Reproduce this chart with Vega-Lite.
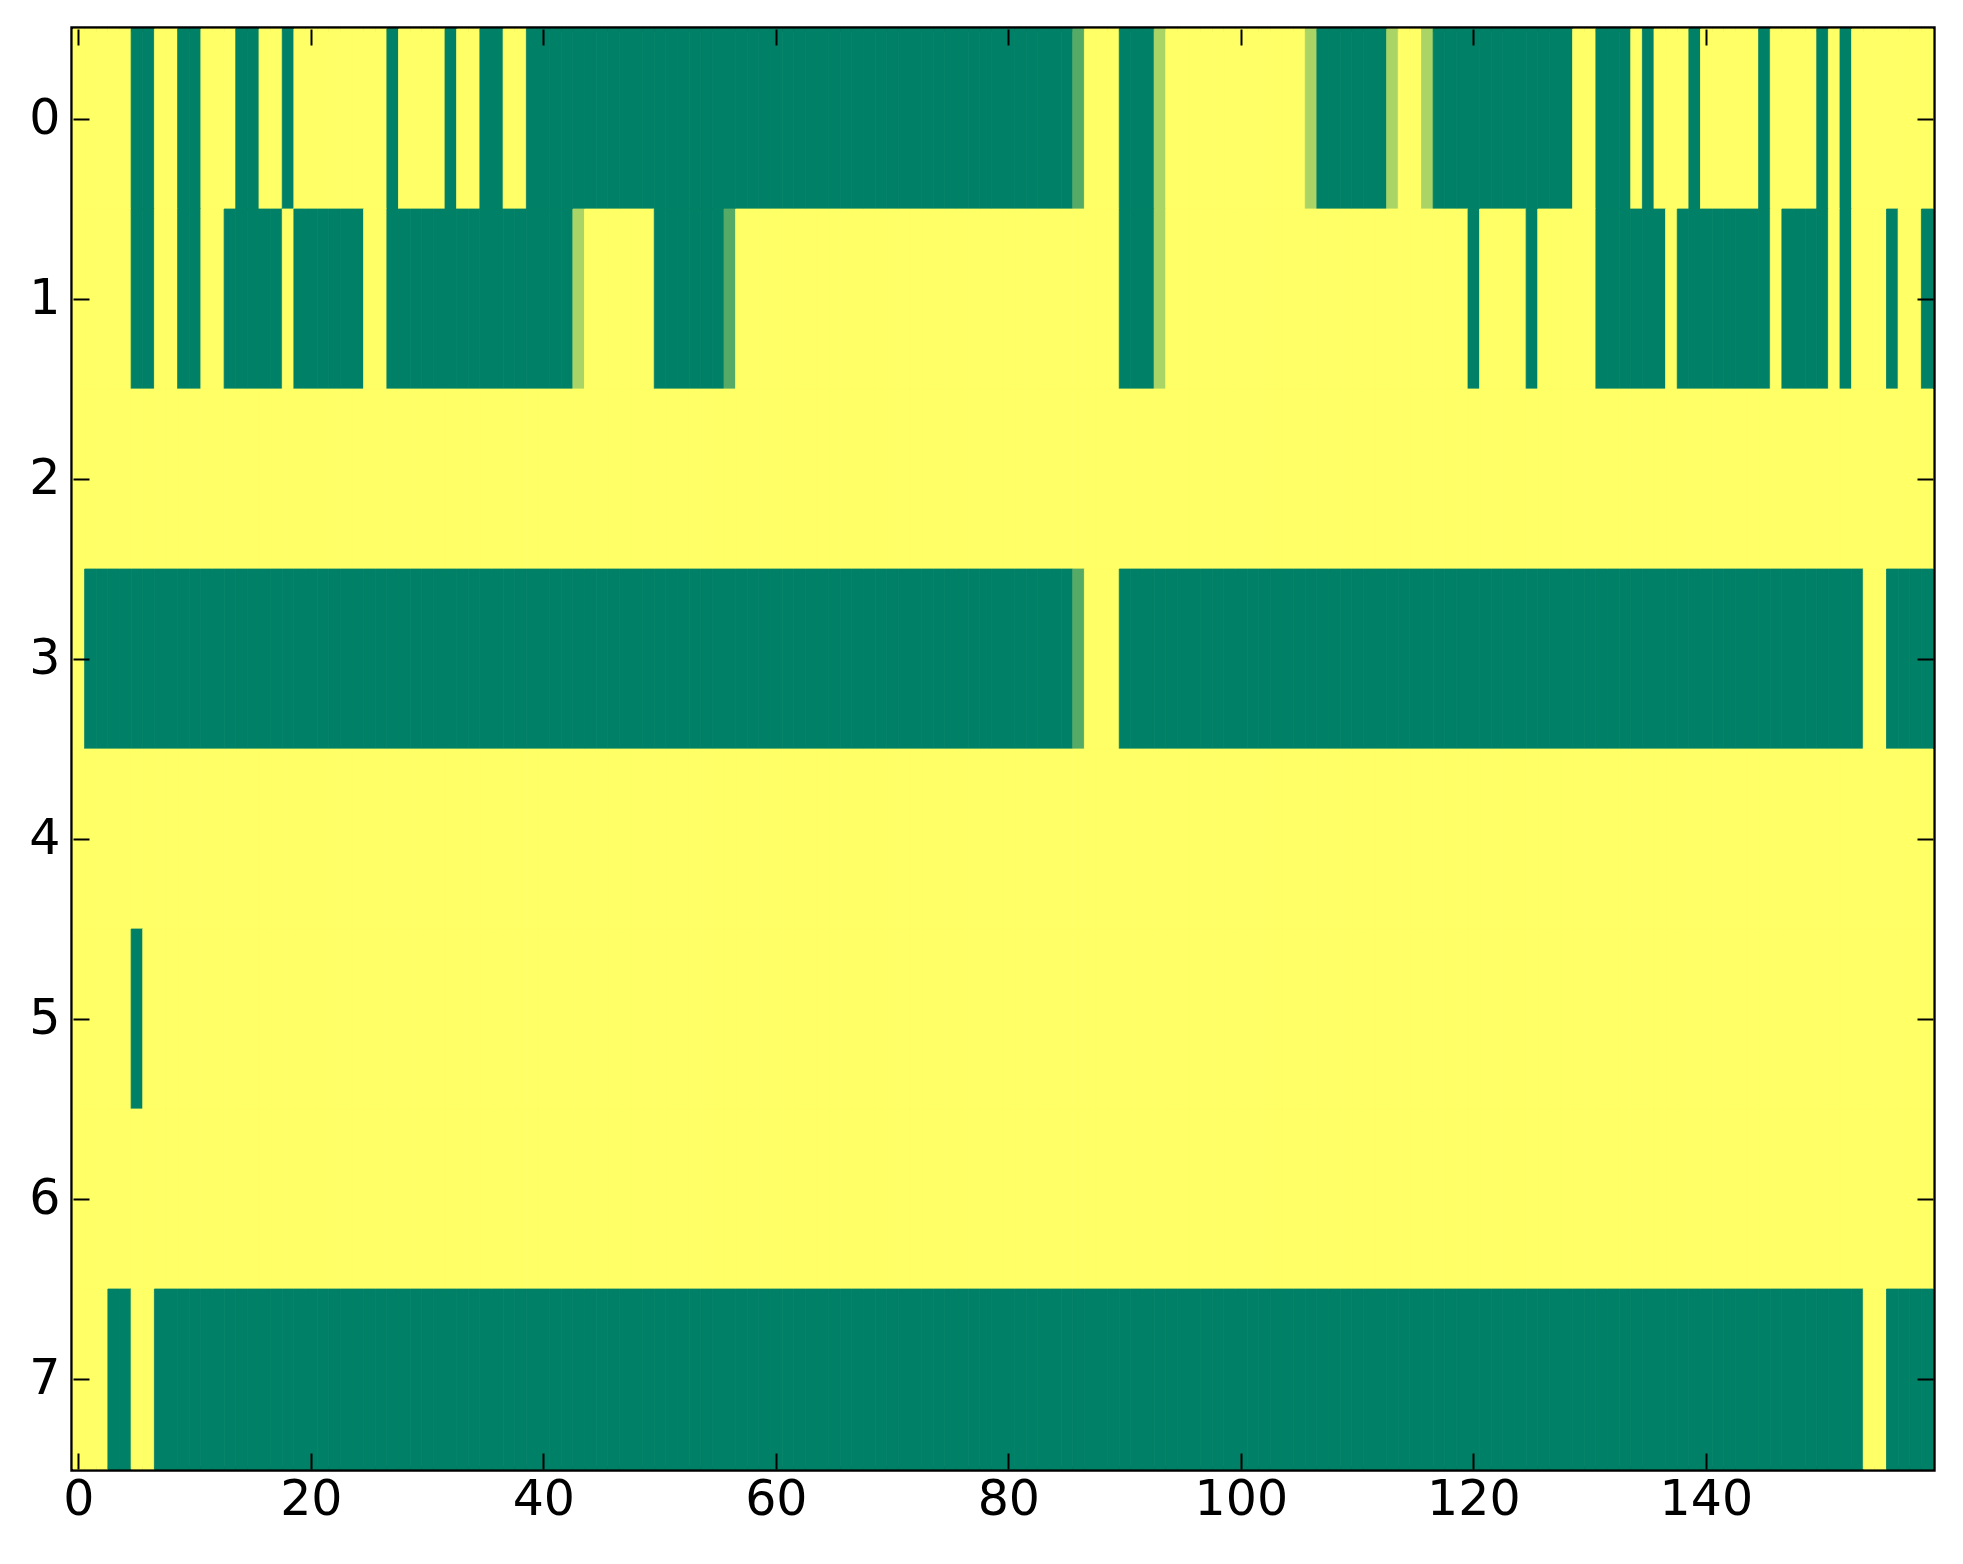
{
  "$schema": "https://vega.github.io/schema/vega-lite/v6.json",
  "autosize": "none",
  "width": 1860,
  "height": 1440,
  "padding": {"left": 73, "top": 29, "right": 30, "bottom": 95},
  "background": "white",
  "data": {
    "values": [
      {"r":0,"c":0,"v":1},{"r":0,"c":1,"v":1},{"r":0,"c":2,"v":1},{"r":0,"c":3,"v":1},{"r":0,"c":4,"v":1},{"r":0,"c":5,"v":0},{"r":0,"c":6,"v":0},{"r":0,"c":7,"v":1},{"r":0,"c":8,"v":1},{"r":0,"c":9,"v":0},
      {"r":0,"c":10,"v":0},{"r":0,"c":11,"v":1},{"r":0,"c":12,"v":1},{"r":0,"c":13,"v":1},{"r":0,"c":14,"v":0},{"r":0,"c":15,"v":0},{"r":0,"c":16,"v":1},{"r":0,"c":17,"v":1},{"r":0,"c":18,"v":0},{"r":0,"c":19,"v":1},
      {"r":0,"c":20,"v":1},{"r":0,"c":21,"v":1},{"r":0,"c":22,"v":1},{"r":0,"c":23,"v":1},{"r":0,"c":24,"v":1},{"r":0,"c":25,"v":1},{"r":0,"c":26,"v":1},{"r":0,"c":27,"v":0},{"r":0,"c":28,"v":1},{"r":0,"c":29,"v":1},
      {"r":0,"c":30,"v":1},{"r":0,"c":31,"v":1},{"r":0,"c":32,"v":0},{"r":0,"c":33,"v":1},{"r":0,"c":34,"v":1},{"r":0,"c":35,"v":0},{"r":0,"c":36,"v":0},{"r":0,"c":37,"v":1},{"r":0,"c":38,"v":1},{"r":0,"c":39,"v":0},
      {"r":0,"c":40,"v":0},{"r":0,"c":41,"v":0},{"r":0,"c":42,"v":0},{"r":0,"c":43,"v":0},{"r":0,"c":44,"v":0},{"r":0,"c":45,"v":0},{"r":0,"c":46,"v":0},{"r":0,"c":47,"v":0},{"r":0,"c":48,"v":0},{"r":0,"c":49,"v":0},
      {"r":0,"c":50,"v":0},{"r":0,"c":51,"v":0},{"r":0,"c":52,"v":0},{"r":0,"c":53,"v":0},{"r":0,"c":54,"v":0},{"r":0,"c":55,"v":0},{"r":0,"c":56,"v":0},{"r":0,"c":57,"v":0},{"r":0,"c":58,"v":0},{"r":0,"c":59,"v":0},
      {"r":0,"c":60,"v":0},{"r":0,"c":61,"v":0},{"r":0,"c":62,"v":0},{"r":0,"c":63,"v":0},{"r":0,"c":64,"v":0},{"r":0,"c":65,"v":0},{"r":0,"c":66,"v":0},{"r":0,"c":67,"v":0},{"r":0,"c":68,"v":0},{"r":0,"c":69,"v":0},
      {"r":0,"c":70,"v":0},{"r":0,"c":71,"v":0},{"r":0,"c":72,"v":0},{"r":0,"c":73,"v":0},{"r":0,"c":74,"v":0},{"r":0,"c":75,"v":0},{"r":0,"c":76,"v":0},{"r":0,"c":77,"v":0},{"r":0,"c":78,"v":0},{"r":0,"c":79,"v":0},
      {"r":0,"c":80,"v":0},{"r":0,"c":81,"v":0},{"r":0,"c":82,"v":0},{"r":0,"c":83,"v":0},{"r":0,"c":84,"v":0},{"r":0,"c":85,"v":0},{"r":0,"c":86,"v":0.333},{"r":0,"c":87,"v":1},{"r":0,"c":88,"v":1},{"r":0,"c":89,"v":1},
      {"r":0,"c":90,"v":0},{"r":0,"c":91,"v":0},{"r":0,"c":92,"v":0},{"r":0,"c":93,"v":0.667},{"r":0,"c":94,"v":1},{"r":0,"c":95,"v":1},{"r":0,"c":96,"v":1},{"r":0,"c":97,"v":1},{"r":0,"c":98,"v":1},{"r":0,"c":99,"v":1},
      {"r":0,"c":100,"v":1},{"r":0,"c":101,"v":1},{"r":0,"c":102,"v":1},{"r":0,"c":103,"v":1},{"r":0,"c":104,"v":1},{"r":0,"c":105,"v":1},{"r":0,"c":106,"v":0.667},{"r":0,"c":107,"v":0},{"r":0,"c":108,"v":0},{"r":0,"c":109,"v":0},
      {"r":0,"c":110,"v":0},{"r":0,"c":111,"v":0},{"r":0,"c":112,"v":0},{"r":0,"c":113,"v":0.667},{"r":0,"c":114,"v":1},{"r":0,"c":115,"v":1},{"r":0,"c":116,"v":0.667},{"r":0,"c":117,"v":0},{"r":0,"c":118,"v":0},{"r":0,"c":119,"v":0},
      {"r":0,"c":120,"v":0},{"r":0,"c":121,"v":0},{"r":0,"c":122,"v":0},{"r":0,"c":123,"v":0},{"r":0,"c":124,"v":0},{"r":0,"c":125,"v":0},{"r":0,"c":126,"v":0},{"r":0,"c":127,"v":0},{"r":0,"c":128,"v":0},{"r":0,"c":129,"v":1},
      {"r":0,"c":130,"v":1},{"r":0,"c":131,"v":0},{"r":0,"c":132,"v":0},{"r":0,"c":133,"v":0},{"r":0,"c":134,"v":1},{"r":0,"c":135,"v":0},{"r":0,"c":136,"v":1},{"r":0,"c":137,"v":1},{"r":0,"c":138,"v":1},{"r":0,"c":139,"v":0},
      {"r":0,"c":140,"v":1},{"r":0,"c":141,"v":1},{"r":0,"c":142,"v":1},{"r":0,"c":143,"v":1},{"r":0,"c":144,"v":1},{"r":0,"c":145,"v":0},{"r":0,"c":146,"v":1},{"r":0,"c":147,"v":1},{"r":0,"c":148,"v":1},{"r":0,"c":149,"v":1},
      {"r":0,"c":150,"v":0},{"r":0,"c":151,"v":1},{"r":0,"c":152,"v":0},{"r":0,"c":153,"v":1},{"r":0,"c":154,"v":1},{"r":0,"c":155,"v":1},{"r":0,"c":156,"v":1},{"r":0,"c":157,"v":1},{"r":0,"c":158,"v":1},{"r":0,"c":159,"v":1},

      {"r":1,"c":0,"v":1},{"r":1,"c":1,"v":1},{"r":1,"c":2,"v":1},{"r":1,"c":3,"v":1},{"r":1,"c":4,"v":1},{"r":1,"c":5,"v":0},{"r":1,"c":6,"v":0},{"r":1,"c":7,"v":1},{"r":1,"c":8,"v":1},{"r":1,"c":9,"v":0},
      {"r":1,"c":10,"v":0},{"r":1,"c":11,"v":1},{"r":1,"c":12,"v":1},{"r":1,"c":13,"v":0},{"r":1,"c":14,"v":0},{"r":1,"c":15,"v":0},{"r":1,"c":16,"v":0},{"r":1,"c":17,"v":0},{"r":1,"c":18,"v":1},{"r":1,"c":19,"v":0},
      {"r":1,"c":20,"v":0},{"r":1,"c":21,"v":0},{"r":1,"c":22,"v":0},{"r":1,"c":23,"v":0},{"r":1,"c":24,"v":0},{"r":1,"c":25,"v":1},{"r":1,"c":26,"v":1},{"r":1,"c":27,"v":0},{"r":1,"c":28,"v":0},{"r":1,"c":29,"v":0},
      {"r":1,"c":30,"v":0},{"r":1,"c":31,"v":0},{"r":1,"c":32,"v":0},{"r":1,"c":33,"v":0},{"r":1,"c":34,"v":0},{"r":1,"c":35,"v":0},{"r":1,"c":36,"v":0},{"r":1,"c":37,"v":0},{"r":1,"c":38,"v":0},{"r":1,"c":39,"v":0},
      {"r":1,"c":40,"v":0},{"r":1,"c":41,"v":0},{"r":1,"c":42,"v":0},{"r":1,"c":43,"v":0.667},{"r":1,"c":44,"v":1},{"r":1,"c":45,"v":1},{"r":1,"c":46,"v":1},{"r":1,"c":47,"v":1},{"r":1,"c":48,"v":1},{"r":1,"c":49,"v":1},
      {"r":1,"c":50,"v":0},{"r":1,"c":51,"v":0},{"r":1,"c":52,"v":0},{"r":1,"c":53,"v":0},{"r":1,"c":54,"v":0},{"r":1,"c":55,"v":0},{"r":1,"c":56,"v":0.333},{"r":1,"c":57,"v":1},{"r":1,"c":58,"v":1},{"r":1,"c":59,"v":1},
      {"r":1,"c":60,"v":1},{"r":1,"c":61,"v":1},{"r":1,"c":62,"v":1},{"r":1,"c":63,"v":1},{"r":1,"c":64,"v":1},{"r":1,"c":65,"v":1},{"r":1,"c":66,"v":1},{"r":1,"c":67,"v":1},{"r":1,"c":68,"v":1},{"r":1,"c":69,"v":1},
      {"r":1,"c":70,"v":1},{"r":1,"c":71,"v":1},{"r":1,"c":72,"v":1},{"r":1,"c":73,"v":1},{"r":1,"c":74,"v":1},{"r":1,"c":75,"v":1},{"r":1,"c":76,"v":1},{"r":1,"c":77,"v":1},{"r":1,"c":78,"v":1},{"r":1,"c":79,"v":1},
      {"r":1,"c":80,"v":1},{"r":1,"c":81,"v":1},{"r":1,"c":82,"v":1},{"r":1,"c":83,"v":1},{"r":1,"c":84,"v":1},{"r":1,"c":85,"v":1},{"r":1,"c":86,"v":1},{"r":1,"c":87,"v":1},{"r":1,"c":88,"v":1},{"r":1,"c":89,"v":1},
      {"r":1,"c":90,"v":0},{"r":1,"c":91,"v":0},{"r":1,"c":92,"v":0},{"r":1,"c":93,"v":0.667},{"r":1,"c":94,"v":1},{"r":1,"c":95,"v":1},{"r":1,"c":96,"v":1},{"r":1,"c":97,"v":1},{"r":1,"c":98,"v":1},{"r":1,"c":99,"v":1},
      {"r":1,"c":100,"v":1},{"r":1,"c":101,"v":1},{"r":1,"c":102,"v":1},{"r":1,"c":103,"v":1},{"r":1,"c":104,"v":1},{"r":1,"c":105,"v":1},{"r":1,"c":106,"v":1},{"r":1,"c":107,"v":1},{"r":1,"c":108,"v":1},{"r":1,"c":109,"v":1},
      {"r":1,"c":110,"v":1},{"r":1,"c":111,"v":1},{"r":1,"c":112,"v":1},{"r":1,"c":113,"v":1},{"r":1,"c":114,"v":1},{"r":1,"c":115,"v":1},{"r":1,"c":116,"v":1},{"r":1,"c":117,"v":1},{"r":1,"c":118,"v":1},{"r":1,"c":119,"v":1},
      {"r":1,"c":120,"v":0},{"r":1,"c":121,"v":1},{"r":1,"c":122,"v":1},{"r":1,"c":123,"v":1},{"r":1,"c":124,"v":1},{"r":1,"c":125,"v":0},{"r":1,"c":126,"v":1},{"r":1,"c":127,"v":1},{"r":1,"c":128,"v":1},{"r":1,"c":129,"v":1},
      {"r":1,"c":130,"v":1},{"r":1,"c":131,"v":0},{"r":1,"c":132,"v":0},{"r":1,"c":133,"v":0},{"r":1,"c":134,"v":0},{"r":1,"c":135,"v":0},{"r":1,"c":136,"v":0},{"r":1,"c":137,"v":1},{"r":1,"c":138,"v":0},{"r":1,"c":139,"v":0},
      {"r":1,"c":140,"v":0},{"r":1,"c":141,"v":0},{"r":1,"c":142,"v":0},{"r":1,"c":143,"v":0},{"r":1,"c":144,"v":0},{"r":1,"c":145,"v":0},{"r":1,"c":146,"v":1},{"r":1,"c":147,"v":0},{"r":1,"c":148,"v":0},{"r":1,"c":149,"v":0},
      {"r":1,"c":150,"v":0},{"r":1,"c":151,"v":1},{"r":1,"c":152,"v":0},{"r":1,"c":153,"v":1},{"r":1,"c":154,"v":1},{"r":1,"c":155,"v":1},{"r":1,"c":156,"v":0},{"r":1,"c":157,"v":1},{"r":1,"c":158,"v":1},{"r":1,"c":159,"v":0},

      {"r":2,"c":0,"v":1},{"r":2,"c":1,"v":1},{"r":2,"c":2,"v":1},{"r":2,"c":3,"v":1},{"r":2,"c":4,"v":1},{"r":2,"c":5,"v":1},{"r":2,"c":6,"v":1},{"r":2,"c":7,"v":1},{"r":2,"c":8,"v":1},{"r":2,"c":9,"v":1},
      {"r":2,"c":10,"v":1},{"r":2,"c":11,"v":1},{"r":2,"c":12,"v":1},{"r":2,"c":13,"v":1},{"r":2,"c":14,"v":1},{"r":2,"c":15,"v":1},{"r":2,"c":16,"v":1},{"r":2,"c":17,"v":1},{"r":2,"c":18,"v":1},{"r":2,"c":19,"v":1},
      {"r":2,"c":20,"v":1},{"r":2,"c":21,"v":1},{"r":2,"c":22,"v":1},{"r":2,"c":23,"v":1},{"r":2,"c":24,"v":1},{"r":2,"c":25,"v":1},{"r":2,"c":26,"v":1},{"r":2,"c":27,"v":1},{"r":2,"c":28,"v":1},{"r":2,"c":29,"v":1},
      {"r":2,"c":30,"v":1},{"r":2,"c":31,"v":1},{"r":2,"c":32,"v":1},{"r":2,"c":33,"v":1},{"r":2,"c":34,"v":1},{"r":2,"c":35,"v":1},{"r":2,"c":36,"v":1},{"r":2,"c":37,"v":1},{"r":2,"c":38,"v":1},{"r":2,"c":39,"v":1},
      {"r":2,"c":40,"v":1},{"r":2,"c":41,"v":1},{"r":2,"c":42,"v":1},{"r":2,"c":43,"v":1},{"r":2,"c":44,"v":1},{"r":2,"c":45,"v":1},{"r":2,"c":46,"v":1},{"r":2,"c":47,"v":1},{"r":2,"c":48,"v":1},{"r":2,"c":49,"v":1},
      {"r":2,"c":50,"v":1},{"r":2,"c":51,"v":1},{"r":2,"c":52,"v":1},{"r":2,"c":53,"v":1},{"r":2,"c":54,"v":1},{"r":2,"c":55,"v":1},{"r":2,"c":56,"v":1},{"r":2,"c":57,"v":1},{"r":2,"c":58,"v":1},{"r":2,"c":59,"v":1},
      {"r":2,"c":60,"v":1},{"r":2,"c":61,"v":1},{"r":2,"c":62,"v":1},{"r":2,"c":63,"v":1},{"r":2,"c":64,"v":1},{"r":2,"c":65,"v":1},{"r":2,"c":66,"v":1},{"r":2,"c":67,"v":1},{"r":2,"c":68,"v":1},{"r":2,"c":69,"v":1},
      {"r":2,"c":70,"v":1},{"r":2,"c":71,"v":1},{"r":2,"c":72,"v":1},{"r":2,"c":73,"v":1},{"r":2,"c":74,"v":1},{"r":2,"c":75,"v":1},{"r":2,"c":76,"v":1},{"r":2,"c":77,"v":1},{"r":2,"c":78,"v":1},{"r":2,"c":79,"v":1},
      {"r":2,"c":80,"v":1},{"r":2,"c":81,"v":1},{"r":2,"c":82,"v":1},{"r":2,"c":83,"v":1},{"r":2,"c":84,"v":1},{"r":2,"c":85,"v":1},{"r":2,"c":86,"v":1},{"r":2,"c":87,"v":1},{"r":2,"c":88,"v":1},{"r":2,"c":89,"v":1},
      {"r":2,"c":90,"v":1},{"r":2,"c":91,"v":1},{"r":2,"c":92,"v":1},{"r":2,"c":93,"v":1},{"r":2,"c":94,"v":1},{"r":2,"c":95,"v":1},{"r":2,"c":96,"v":1},{"r":2,"c":97,"v":1},{"r":2,"c":98,"v":1},{"r":2,"c":99,"v":1},
      {"r":2,"c":100,"v":1},{"r":2,"c":101,"v":1},{"r":2,"c":102,"v":1},{"r":2,"c":103,"v":1},{"r":2,"c":104,"v":1},{"r":2,"c":105,"v":1},{"r":2,"c":106,"v":1},{"r":2,"c":107,"v":1},{"r":2,"c":108,"v":1},{"r":2,"c":109,"v":1},
      {"r":2,"c":110,"v":1},{"r":2,"c":111,"v":1},{"r":2,"c":112,"v":1},{"r":2,"c":113,"v":1},{"r":2,"c":114,"v":1},{"r":2,"c":115,"v":1},{"r":2,"c":116,"v":1},{"r":2,"c":117,"v":1},{"r":2,"c":118,"v":1},{"r":2,"c":119,"v":1},
      {"r":2,"c":120,"v":1},{"r":2,"c":121,"v":1},{"r":2,"c":122,"v":1},{"r":2,"c":123,"v":1},{"r":2,"c":124,"v":1},{"r":2,"c":125,"v":1},{"r":2,"c":126,"v":1},{"r":2,"c":127,"v":1},{"r":2,"c":128,"v":1},{"r":2,"c":129,"v":1},
      {"r":2,"c":130,"v":1},{"r":2,"c":131,"v":1},{"r":2,"c":132,"v":1},{"r":2,"c":133,"v":1},{"r":2,"c":134,"v":1},{"r":2,"c":135,"v":1},{"r":2,"c":136,"v":1},{"r":2,"c":137,"v":1},{"r":2,"c":138,"v":1},{"r":2,"c":139,"v":1},
      {"r":2,"c":140,"v":1},{"r":2,"c":141,"v":1},{"r":2,"c":142,"v":1},{"r":2,"c":143,"v":1},{"r":2,"c":144,"v":1},{"r":2,"c":145,"v":1},{"r":2,"c":146,"v":1},{"r":2,"c":147,"v":1},{"r":2,"c":148,"v":1},{"r":2,"c":149,"v":1},
      {"r":2,"c":150,"v":1},{"r":2,"c":151,"v":1},{"r":2,"c":152,"v":1},{"r":2,"c":153,"v":1},{"r":2,"c":154,"v":1},{"r":2,"c":155,"v":1},{"r":2,"c":156,"v":1},{"r":2,"c":157,"v":1},{"r":2,"c":158,"v":1},{"r":2,"c":159,"v":1},

      {"r":3,"c":0,"v":1},{"r":3,"c":1,"v":0},{"r":3,"c":2,"v":0},{"r":3,"c":3,"v":0},{"r":3,"c":4,"v":0},{"r":3,"c":5,"v":0},{"r":3,"c":6,"v":0},{"r":3,"c":7,"v":0},{"r":3,"c":8,"v":0},{"r":3,"c":9,"v":0},
      {"r":3,"c":10,"v":0},{"r":3,"c":11,"v":0},{"r":3,"c":12,"v":0},{"r":3,"c":13,"v":0},{"r":3,"c":14,"v":0},{"r":3,"c":15,"v":0},{"r":3,"c":16,"v":0},{"r":3,"c":17,"v":0},{"r":3,"c":18,"v":0},{"r":3,"c":19,"v":0},
      {"r":3,"c":20,"v":0},{"r":3,"c":21,"v":0},{"r":3,"c":22,"v":0},{"r":3,"c":23,"v":0},{"r":3,"c":24,"v":0},{"r":3,"c":25,"v":0},{"r":3,"c":26,"v":0},{"r":3,"c":27,"v":0},{"r":3,"c":28,"v":0},{"r":3,"c":29,"v":0},
      {"r":3,"c":30,"v":0},{"r":3,"c":31,"v":0},{"r":3,"c":32,"v":0},{"r":3,"c":33,"v":0},{"r":3,"c":34,"v":0},{"r":3,"c":35,"v":0},{"r":3,"c":36,"v":0},{"r":3,"c":37,"v":0},{"r":3,"c":38,"v":0},{"r":3,"c":39,"v":0},
      {"r":3,"c":40,"v":0},{"r":3,"c":41,"v":0},{"r":3,"c":42,"v":0},{"r":3,"c":43,"v":0},{"r":3,"c":44,"v":0},{"r":3,"c":45,"v":0},{"r":3,"c":46,"v":0},{"r":3,"c":47,"v":0},{"r":3,"c":48,"v":0},{"r":3,"c":49,"v":0},
      {"r":3,"c":50,"v":0},{"r":3,"c":51,"v":0},{"r":3,"c":52,"v":0},{"r":3,"c":53,"v":0},{"r":3,"c":54,"v":0},{"r":3,"c":55,"v":0},{"r":3,"c":56,"v":0},{"r":3,"c":57,"v":0},{"r":3,"c":58,"v":0},{"r":3,"c":59,"v":0},
      {"r":3,"c":60,"v":0},{"r":3,"c":61,"v":0},{"r":3,"c":62,"v":0},{"r":3,"c":63,"v":0},{"r":3,"c":64,"v":0},{"r":3,"c":65,"v":0},{"r":3,"c":66,"v":0},{"r":3,"c":67,"v":0},{"r":3,"c":68,"v":0},{"r":3,"c":69,"v":0},
      {"r":3,"c":70,"v":0},{"r":3,"c":71,"v":0},{"r":3,"c":72,"v":0},{"r":3,"c":73,"v":0},{"r":3,"c":74,"v":0},{"r":3,"c":75,"v":0},{"r":3,"c":76,"v":0},{"r":3,"c":77,"v":0},{"r":3,"c":78,"v":0},{"r":3,"c":79,"v":0},
      {"r":3,"c":80,"v":0},{"r":3,"c":81,"v":0},{"r":3,"c":82,"v":0},{"r":3,"c":83,"v":0},{"r":3,"c":84,"v":0},{"r":3,"c":85,"v":0},{"r":3,"c":86,"v":0.333},{"r":3,"c":87,"v":1},{"r":3,"c":88,"v":1},{"r":3,"c":89,"v":1},
      {"r":3,"c":90,"v":0},{"r":3,"c":91,"v":0},{"r":3,"c":92,"v":0},{"r":3,"c":93,"v":0},{"r":3,"c":94,"v":0},{"r":3,"c":95,"v":0},{"r":3,"c":96,"v":0},{"r":3,"c":97,"v":0},{"r":3,"c":98,"v":0},{"r":3,"c":99,"v":0},
      {"r":3,"c":100,"v":0},{"r":3,"c":101,"v":0},{"r":3,"c":102,"v":0},{"r":3,"c":103,"v":0},{"r":3,"c":104,"v":0},{"r":3,"c":105,"v":0},{"r":3,"c":106,"v":0},{"r":3,"c":107,"v":0},{"r":3,"c":108,"v":0},{"r":3,"c":109,"v":0},
      {"r":3,"c":110,"v":0},{"r":3,"c":111,"v":0},{"r":3,"c":112,"v":0},{"r":3,"c":113,"v":0},{"r":3,"c":114,"v":0},{"r":3,"c":115,"v":0},{"r":3,"c":116,"v":0},{"r":3,"c":117,"v":0},{"r":3,"c":118,"v":0},{"r":3,"c":119,"v":0},
      {"r":3,"c":120,"v":0},{"r":3,"c":121,"v":0},{"r":3,"c":122,"v":0},{"r":3,"c":123,"v":0},{"r":3,"c":124,"v":0},{"r":3,"c":125,"v":0},{"r":3,"c":126,"v":0},{"r":3,"c":127,"v":0},{"r":3,"c":128,"v":0},{"r":3,"c":129,"v":0},
      {"r":3,"c":130,"v":0},{"r":3,"c":131,"v":0},{"r":3,"c":132,"v":0},{"r":3,"c":133,"v":0},{"r":3,"c":134,"v":0},{"r":3,"c":135,"v":0},{"r":3,"c":136,"v":0},{"r":3,"c":137,"v":0},{"r":3,"c":138,"v":0},{"r":3,"c":139,"v":0},
      {"r":3,"c":140,"v":0},{"r":3,"c":141,"v":0},{"r":3,"c":142,"v":0},{"r":3,"c":143,"v":0},{"r":3,"c":144,"v":0},{"r":3,"c":145,"v":0},{"r":3,"c":146,"v":0},{"r":3,"c":147,"v":0},{"r":3,"c":148,"v":0},{"r":3,"c":149,"v":0},
      {"r":3,"c":150,"v":0},{"r":3,"c":151,"v":0},{"r":3,"c":152,"v":0},{"r":3,"c":153,"v":0},{"r":3,"c":154,"v":1},{"r":3,"c":155,"v":1},{"r":3,"c":156,"v":0},{"r":3,"c":157,"v":0},{"r":3,"c":158,"v":0},{"r":3,"c":159,"v":0},

      {"r":4,"c":0,"v":1},{"r":4,"c":1,"v":1},{"r":4,"c":2,"v":1},{"r":4,"c":3,"v":1},{"r":4,"c":4,"v":1},{"r":4,"c":5,"v":1},{"r":4,"c":6,"v":1},{"r":4,"c":7,"v":1},{"r":4,"c":8,"v":1},{"r":4,"c":9,"v":1},
      {"r":4,"c":10,"v":1},{"r":4,"c":11,"v":1},{"r":4,"c":12,"v":1},{"r":4,"c":13,"v":1},{"r":4,"c":14,"v":1},{"r":4,"c":15,"v":1},{"r":4,"c":16,"v":1},{"r":4,"c":17,"v":1},{"r":4,"c":18,"v":1},{"r":4,"c":19,"v":1},
      {"r":4,"c":20,"v":1},{"r":4,"c":21,"v":1},{"r":4,"c":22,"v":1},{"r":4,"c":23,"v":1},{"r":4,"c":24,"v":1},{"r":4,"c":25,"v":1},{"r":4,"c":26,"v":1},{"r":4,"c":27,"v":1},{"r":4,"c":28,"v":1},{"r":4,"c":29,"v":1},
      {"r":4,"c":30,"v":1},{"r":4,"c":31,"v":1},{"r":4,"c":32,"v":1},{"r":4,"c":33,"v":1},{"r":4,"c":34,"v":1},{"r":4,"c":35,"v":1},{"r":4,"c":36,"v":1},{"r":4,"c":37,"v":1},{"r":4,"c":38,"v":1},{"r":4,"c":39,"v":1},
      {"r":4,"c":40,"v":1},{"r":4,"c":41,"v":1},{"r":4,"c":42,"v":1},{"r":4,"c":43,"v":1},{"r":4,"c":44,"v":1},{"r":4,"c":45,"v":1},{"r":4,"c":46,"v":1},{"r":4,"c":47,"v":1},{"r":4,"c":48,"v":1},{"r":4,"c":49,"v":1},
      {"r":4,"c":50,"v":1},{"r":4,"c":51,"v":1},{"r":4,"c":52,"v":1},{"r":4,"c":53,"v":1},{"r":4,"c":54,"v":1},{"r":4,"c":55,"v":1},{"r":4,"c":56,"v":1},{"r":4,"c":57,"v":1},{"r":4,"c":58,"v":1},{"r":4,"c":59,"v":1},
      {"r":4,"c":60,"v":1},{"r":4,"c":61,"v":1},{"r":4,"c":62,"v":1},{"r":4,"c":63,"v":1},{"r":4,"c":64,"v":1},{"r":4,"c":65,"v":1},{"r":4,"c":66,"v":1},{"r":4,"c":67,"v":1},{"r":4,"c":68,"v":1},{"r":4,"c":69,"v":1},
      {"r":4,"c":70,"v":1},{"r":4,"c":71,"v":1},{"r":4,"c":72,"v":1},{"r":4,"c":73,"v":1},{"r":4,"c":74,"v":1},{"r":4,"c":75,"v":1},{"r":4,"c":76,"v":1},{"r":4,"c":77,"v":1},{"r":4,"c":78,"v":1},{"r":4,"c":79,"v":1},
      {"r":4,"c":80,"v":1},{"r":4,"c":81,"v":1},{"r":4,"c":82,"v":1},{"r":4,"c":83,"v":1},{"r":4,"c":84,"v":1},{"r":4,"c":85,"v":1},{"r":4,"c":86,"v":1},{"r":4,"c":87,"v":1},{"r":4,"c":88,"v":1},{"r":4,"c":89,"v":1},
      {"r":4,"c":90,"v":1},{"r":4,"c":91,"v":1},{"r":4,"c":92,"v":1},{"r":4,"c":93,"v":1},{"r":4,"c":94,"v":1},{"r":4,"c":95,"v":1},{"r":4,"c":96,"v":1},{"r":4,"c":97,"v":1},{"r":4,"c":98,"v":1},{"r":4,"c":99,"v":1},
      {"r":4,"c":100,"v":1},{"r":4,"c":101,"v":1},{"r":4,"c":102,"v":1},{"r":4,"c":103,"v":1},{"r":4,"c":104,"v":1},{"r":4,"c":105,"v":1},{"r":4,"c":106,"v":1},{"r":4,"c":107,"v":1},{"r":4,"c":108,"v":1},{"r":4,"c":109,"v":1},
      {"r":4,"c":110,"v":1},{"r":4,"c":111,"v":1},{"r":4,"c":112,"v":1},{"r":4,"c":113,"v":1},{"r":4,"c":114,"v":1},{"r":4,"c":115,"v":1},{"r":4,"c":116,"v":1},{"r":4,"c":117,"v":1},{"r":4,"c":118,"v":1},{"r":4,"c":119,"v":1},
      {"r":4,"c":120,"v":1},{"r":4,"c":121,"v":1},{"r":4,"c":122,"v":1},{"r":4,"c":123,"v":1},{"r":4,"c":124,"v":1},{"r":4,"c":125,"v":1},{"r":4,"c":126,"v":1},{"r":4,"c":127,"v":1},{"r":4,"c":128,"v":1},{"r":4,"c":129,"v":1},
      {"r":4,"c":130,"v":1},{"r":4,"c":131,"v":1},{"r":4,"c":132,"v":1},{"r":4,"c":133,"v":1},{"r":4,"c":134,"v":1},{"r":4,"c":135,"v":1},{"r":4,"c":136,"v":1},{"r":4,"c":137,"v":1},{"r":4,"c":138,"v":1},{"r":4,"c":139,"v":1},
      {"r":4,"c":140,"v":1},{"r":4,"c":141,"v":1},{"r":4,"c":142,"v":1},{"r":4,"c":143,"v":1},{"r":4,"c":144,"v":1},{"r":4,"c":145,"v":1},{"r":4,"c":146,"v":1},{"r":4,"c":147,"v":1},{"r":4,"c":148,"v":1},{"r":4,"c":149,"v":1},
      {"r":4,"c":150,"v":1},{"r":4,"c":151,"v":1},{"r":4,"c":152,"v":1},{"r":4,"c":153,"v":1},{"r":4,"c":154,"v":1},{"r":4,"c":155,"v":1},{"r":4,"c":156,"v":1},{"r":4,"c":157,"v":1},{"r":4,"c":158,"v":1},{"r":4,"c":159,"v":1},

      {"r":5,"c":0,"v":1},{"r":5,"c":1,"v":1},{"r":5,"c":2,"v":1},{"r":5,"c":3,"v":1},{"r":5,"c":4,"v":1},{"r":5,"c":5,"v":0},{"r":5,"c":6,"v":1},{"r":5,"c":7,"v":1},{"r":5,"c":8,"v":1},{"r":5,"c":9,"v":1},
      {"r":5,"c":10,"v":1},{"r":5,"c":11,"v":1},{"r":5,"c":12,"v":1},{"r":5,"c":13,"v":1},{"r":5,"c":14,"v":1},{"r":5,"c":15,"v":1},{"r":5,"c":16,"v":1},{"r":5,"c":17,"v":1},{"r":5,"c":18,"v":1},{"r":5,"c":19,"v":1},
      {"r":5,"c":20,"v":1},{"r":5,"c":21,"v":1},{"r":5,"c":22,"v":1},{"r":5,"c":23,"v":1},{"r":5,"c":24,"v":1},{"r":5,"c":25,"v":1},{"r":5,"c":26,"v":1},{"r":5,"c":27,"v":1},{"r":5,"c":28,"v":1},{"r":5,"c":29,"v":1},
      {"r":5,"c":30,"v":1},{"r":5,"c":31,"v":1},{"r":5,"c":32,"v":1},{"r":5,"c":33,"v":1},{"r":5,"c":34,"v":1},{"r":5,"c":35,"v":1},{"r":5,"c":36,"v":1},{"r":5,"c":37,"v":1},{"r":5,"c":38,"v":1},{"r":5,"c":39,"v":1},
      {"r":5,"c":40,"v":1},{"r":5,"c":41,"v":1},{"r":5,"c":42,"v":1},{"r":5,"c":43,"v":1},{"r":5,"c":44,"v":1},{"r":5,"c":45,"v":1},{"r":5,"c":46,"v":1},{"r":5,"c":47,"v":1},{"r":5,"c":48,"v":1},{"r":5,"c":49,"v":1},
      {"r":5,"c":50,"v":1},{"r":5,"c":51,"v":1},{"r":5,"c":52,"v":1},{"r":5,"c":53,"v":1},{"r":5,"c":54,"v":1},{"r":5,"c":55,"v":1},{"r":5,"c":56,"v":1},{"r":5,"c":57,"v":1},{"r":5,"c":58,"v":1},{"r":5,"c":59,"v":1},
      {"r":5,"c":60,"v":1},{"r":5,"c":61,"v":1},{"r":5,"c":62,"v":1},{"r":5,"c":63,"v":1},{"r":5,"c":64,"v":1},{"r":5,"c":65,"v":1},{"r":5,"c":66,"v":1},{"r":5,"c":67,"v":1},{"r":5,"c":68,"v":1},{"r":5,"c":69,"v":1},
      {"r":5,"c":70,"v":1},{"r":5,"c":71,"v":1},{"r":5,"c":72,"v":1},{"r":5,"c":73,"v":1},{"r":5,"c":74,"v":1},{"r":5,"c":75,"v":1},{"r":5,"c":76,"v":1},{"r":5,"c":77,"v":1},{"r":5,"c":78,"v":1},{"r":5,"c":79,"v":1},
      {"r":5,"c":80,"v":1},{"r":5,"c":81,"v":1},{"r":5,"c":82,"v":1},{"r":5,"c":83,"v":1},{"r":5,"c":84,"v":1},{"r":5,"c":85,"v":1},{"r":5,"c":86,"v":1},{"r":5,"c":87,"v":1},{"r":5,"c":88,"v":1},{"r":5,"c":89,"v":1},
      {"r":5,"c":90,"v":1},{"r":5,"c":91,"v":1},{"r":5,"c":92,"v":1},{"r":5,"c":93,"v":1},{"r":5,"c":94,"v":1},{"r":5,"c":95,"v":1},{"r":5,"c":96,"v":1},{"r":5,"c":97,"v":1},{"r":5,"c":98,"v":1},{"r":5,"c":99,"v":1},
      {"r":5,"c":100,"v":1},{"r":5,"c":101,"v":1},{"r":5,"c":102,"v":1},{"r":5,"c":103,"v":1},{"r":5,"c":104,"v":1},{"r":5,"c":105,"v":1},{"r":5,"c":106,"v":1},{"r":5,"c":107,"v":1},{"r":5,"c":108,"v":1},{"r":5,"c":109,"v":1},
      {"r":5,"c":110,"v":1},{"r":5,"c":111,"v":1},{"r":5,"c":112,"v":1},{"r":5,"c":113,"v":1},{"r":5,"c":114,"v":1},{"r":5,"c":115,"v":1},{"r":5,"c":116,"v":1},{"r":5,"c":117,"v":1},{"r":5,"c":118,"v":1},{"r":5,"c":119,"v":1},
      {"r":5,"c":120,"v":1},{"r":5,"c":121,"v":1},{"r":5,"c":122,"v":1},{"r":5,"c":123,"v":1},{"r":5,"c":124,"v":1},{"r":5,"c":125,"v":1},{"r":5,"c":126,"v":1},{"r":5,"c":127,"v":1},{"r":5,"c":128,"v":1},{"r":5,"c":129,"v":1},
      {"r":5,"c":130,"v":1},{"r":5,"c":131,"v":1},{"r":5,"c":132,"v":1},{"r":5,"c":133,"v":1},{"r":5,"c":134,"v":1},{"r":5,"c":135,"v":1},{"r":5,"c":136,"v":1},{"r":5,"c":137,"v":1},{"r":5,"c":138,"v":1},{"r":5,"c":139,"v":1},
      {"r":5,"c":140,"v":1},{"r":5,"c":141,"v":1},{"r":5,"c":142,"v":1},{"r":5,"c":143,"v":1},{"r":5,"c":144,"v":1},{"r":5,"c":145,"v":1},{"r":5,"c":146,"v":1},{"r":5,"c":147,"v":1},{"r":5,"c":148,"v":1},{"r":5,"c":149,"v":1},
      {"r":5,"c":150,"v":1},{"r":5,"c":151,"v":1},{"r":5,"c":152,"v":1},{"r":5,"c":153,"v":1},{"r":5,"c":154,"v":1},{"r":5,"c":155,"v":1},{"r":5,"c":156,"v":1},{"r":5,"c":157,"v":1},{"r":5,"c":158,"v":1},{"r":5,"c":159,"v":1},

      {"r":6,"c":0,"v":1},{"r":6,"c":1,"v":1},{"r":6,"c":2,"v":1},{"r":6,"c":3,"v":1},{"r":6,"c":4,"v":1},{"r":6,"c":5,"v":1},{"r":6,"c":6,"v":1},{"r":6,"c":7,"v":1},{"r":6,"c":8,"v":1},{"r":6,"c":9,"v":1},
      {"r":6,"c":10,"v":1},{"r":6,"c":11,"v":1},{"r":6,"c":12,"v":1},{"r":6,"c":13,"v":1},{"r":6,"c":14,"v":1},{"r":6,"c":15,"v":1},{"r":6,"c":16,"v":1},{"r":6,"c":17,"v":1},{"r":6,"c":18,"v":1},{"r":6,"c":19,"v":1},
      {"r":6,"c":20,"v":1},{"r":6,"c":21,"v":1},{"r":6,"c":22,"v":1},{"r":6,"c":23,"v":1},{"r":6,"c":24,"v":1},{"r":6,"c":25,"v":1},{"r":6,"c":26,"v":1},{"r":6,"c":27,"v":1},{"r":6,"c":28,"v":1},{"r":6,"c":29,"v":1},
      {"r":6,"c":30,"v":1},{"r":6,"c":31,"v":1},{"r":6,"c":32,"v":1},{"r":6,"c":33,"v":1},{"r":6,"c":34,"v":1},{"r":6,"c":35,"v":1},{"r":6,"c":36,"v":1},{"r":6,"c":37,"v":1},{"r":6,"c":38,"v":1},{"r":6,"c":39,"v":1},
      {"r":6,"c":40,"v":1},{"r":6,"c":41,"v":1},{"r":6,"c":42,"v":1},{"r":6,"c":43,"v":1},{"r":6,"c":44,"v":1},{"r":6,"c":45,"v":1},{"r":6,"c":46,"v":1},{"r":6,"c":47,"v":1},{"r":6,"c":48,"v":1},{"r":6,"c":49,"v":1},
      {"r":6,"c":50,"v":1},{"r":6,"c":51,"v":1},{"r":6,"c":52,"v":1},{"r":6,"c":53,"v":1},{"r":6,"c":54,"v":1},{"r":6,"c":55,"v":1},{"r":6,"c":56,"v":1},{"r":6,"c":57,"v":1},{"r":6,"c":58,"v":1},{"r":6,"c":59,"v":1},
      {"r":6,"c":60,"v":1},{"r":6,"c":61,"v":1},{"r":6,"c":62,"v":1},{"r":6,"c":63,"v":1},{"r":6,"c":64,"v":1},{"r":6,"c":65,"v":1},{"r":6,"c":66,"v":1},{"r":6,"c":67,"v":1},{"r":6,"c":68,"v":1},{"r":6,"c":69,"v":1},
      {"r":6,"c":70,"v":1},{"r":6,"c":71,"v":1},{"r":6,"c":72,"v":1},{"r":6,"c":73,"v":1},{"r":6,"c":74,"v":1},{"r":6,"c":75,"v":1},{"r":6,"c":76,"v":1},{"r":6,"c":77,"v":1},{"r":6,"c":78,"v":1},{"r":6,"c":79,"v":1},
      {"r":6,"c":80,"v":1},{"r":6,"c":81,"v":1},{"r":6,"c":82,"v":1},{"r":6,"c":83,"v":1},{"r":6,"c":84,"v":1},{"r":6,"c":85,"v":1},{"r":6,"c":86,"v":1},{"r":6,"c":87,"v":1},{"r":6,"c":88,"v":1},{"r":6,"c":89,"v":1},
      {"r":6,"c":90,"v":1},{"r":6,"c":91,"v":1},{"r":6,"c":92,"v":1},{"r":6,"c":93,"v":1},{"r":6,"c":94,"v":1},{"r":6,"c":95,"v":1},{"r":6,"c":96,"v":1},{"r":6,"c":97,"v":1},{"r":6,"c":98,"v":1},{"r":6,"c":99,"v":1},
      {"r":6,"c":100,"v":1},{"r":6,"c":101,"v":1},{"r":6,"c":102,"v":1},{"r":6,"c":103,"v":1},{"r":6,"c":104,"v":1},{"r":6,"c":105,"v":1},{"r":6,"c":106,"v":1},{"r":6,"c":107,"v":1},{"r":6,"c":108,"v":1},{"r":6,"c":109,"v":1},
      {"r":6,"c":110,"v":1},{"r":6,"c":111,"v":1},{"r":6,"c":112,"v":1},{"r":6,"c":113,"v":1},{"r":6,"c":114,"v":1},{"r":6,"c":115,"v":1},{"r":6,"c":116,"v":1},{"r":6,"c":117,"v":1},{"r":6,"c":118,"v":1},{"r":6,"c":119,"v":1},
      {"r":6,"c":120,"v":1},{"r":6,"c":121,"v":1},{"r":6,"c":122,"v":1},{"r":6,"c":123,"v":1},{"r":6,"c":124,"v":1},{"r":6,"c":125,"v":1},{"r":6,"c":126,"v":1},{"r":6,"c":127,"v":1},{"r":6,"c":128,"v":1},{"r":6,"c":129,"v":1},
      {"r":6,"c":130,"v":1},{"r":6,"c":131,"v":1},{"r":6,"c":132,"v":1},{"r":6,"c":133,"v":1},{"r":6,"c":134,"v":1},{"r":6,"c":135,"v":1},{"r":6,"c":136,"v":1},{"r":6,"c":137,"v":1},{"r":6,"c":138,"v":1},{"r":6,"c":139,"v":1},
      {"r":6,"c":140,"v":1},{"r":6,"c":141,"v":1},{"r":6,"c":142,"v":1},{"r":6,"c":143,"v":1},{"r":6,"c":144,"v":1},{"r":6,"c":145,"v":1},{"r":6,"c":146,"v":1},{"r":6,"c":147,"v":1},{"r":6,"c":148,"v":1},{"r":6,"c":149,"v":1},
      {"r":6,"c":150,"v":1},{"r":6,"c":151,"v":1},{"r":6,"c":152,"v":1},{"r":6,"c":153,"v":1},{"r":6,"c":154,"v":1},{"r":6,"c":155,"v":1},{"r":6,"c":156,"v":1},{"r":6,"c":157,"v":1},{"r":6,"c":158,"v":1},{"r":6,"c":159,"v":1},

      {"r":7,"c":0,"v":1},{"r":7,"c":1,"v":1},{"r":7,"c":2,"v":1},{"r":7,"c":3,"v":0},{"r":7,"c":4,"v":0},{"r":7,"c":5,"v":1},{"r":7,"c":6,"v":1},{"r":7,"c":7,"v":0},{"r":7,"c":8,"v":0},{"r":7,"c":9,"v":0},
      {"r":7,"c":10,"v":0},{"r":7,"c":11,"v":0},{"r":7,"c":12,"v":0},{"r":7,"c":13,"v":0},{"r":7,"c":14,"v":0},{"r":7,"c":15,"v":0},{"r":7,"c":16,"v":0},{"r":7,"c":17,"v":0},{"r":7,"c":18,"v":0},{"r":7,"c":19,"v":0},
      {"r":7,"c":20,"v":0},{"r":7,"c":21,"v":0},{"r":7,"c":22,"v":0},{"r":7,"c":23,"v":0},{"r":7,"c":24,"v":0},{"r":7,"c":25,"v":0},{"r":7,"c":26,"v":0},{"r":7,"c":27,"v":0},{"r":7,"c":28,"v":0},{"r":7,"c":29,"v":0},
      {"r":7,"c":30,"v":0},{"r":7,"c":31,"v":0},{"r":7,"c":32,"v":0},{"r":7,"c":33,"v":0},{"r":7,"c":34,"v":0},{"r":7,"c":35,"v":0},{"r":7,"c":36,"v":0},{"r":7,"c":37,"v":0},{"r":7,"c":38,"v":0},{"r":7,"c":39,"v":0},
      {"r":7,"c":40,"v":0},{"r":7,"c":41,"v":0},{"r":7,"c":42,"v":0},{"r":7,"c":43,"v":0},{"r":7,"c":44,"v":0},{"r":7,"c":45,"v":0},{"r":7,"c":46,"v":0},{"r":7,"c":47,"v":0},{"r":7,"c":48,"v":0},{"r":7,"c":49,"v":0},
      {"r":7,"c":50,"v":0},{"r":7,"c":51,"v":0},{"r":7,"c":52,"v":0},{"r":7,"c":53,"v":0},{"r":7,"c":54,"v":0},{"r":7,"c":55,"v":0},{"r":7,"c":56,"v":0},{"r":7,"c":57,"v":0},{"r":7,"c":58,"v":0},{"r":7,"c":59,"v":0},
      {"r":7,"c":60,"v":0},{"r":7,"c":61,"v":0},{"r":7,"c":62,"v":0},{"r":7,"c":63,"v":0},{"r":7,"c":64,"v":0},{"r":7,"c":65,"v":0},{"r":7,"c":66,"v":0},{"r":7,"c":67,"v":0},{"r":7,"c":68,"v":0},{"r":7,"c":69,"v":0},
      {"r":7,"c":70,"v":0},{"r":7,"c":71,"v":0},{"r":7,"c":72,"v":0},{"r":7,"c":73,"v":0},{"r":7,"c":74,"v":0},{"r":7,"c":75,"v":0},{"r":7,"c":76,"v":0},{"r":7,"c":77,"v":0},{"r":7,"c":78,"v":0},{"r":7,"c":79,"v":0},
      {"r":7,"c":80,"v":0},{"r":7,"c":81,"v":0},{"r":7,"c":82,"v":0},{"r":7,"c":83,"v":0},{"r":7,"c":84,"v":0},{"r":7,"c":85,"v":0},{"r":7,"c":86,"v":0},{"r":7,"c":87,"v":0},{"r":7,"c":88,"v":0},{"r":7,"c":89,"v":0},
      {"r":7,"c":90,"v":0},{"r":7,"c":91,"v":0},{"r":7,"c":92,"v":0},{"r":7,"c":93,"v":0},{"r":7,"c":94,"v":0},{"r":7,"c":95,"v":0},{"r":7,"c":96,"v":0},{"r":7,"c":97,"v":0},{"r":7,"c":98,"v":0},{"r":7,"c":99,"v":0},
      {"r":7,"c":100,"v":0},{"r":7,"c":101,"v":0},{"r":7,"c":102,"v":0},{"r":7,"c":103,"v":0},{"r":7,"c":104,"v":0},{"r":7,"c":105,"v":0},{"r":7,"c":106,"v":0},{"r":7,"c":107,"v":0},{"r":7,"c":108,"v":0},{"r":7,"c":109,"v":0},
      {"r":7,"c":110,"v":0},{"r":7,"c":111,"v":0},{"r":7,"c":112,"v":0},{"r":7,"c":113,"v":0},{"r":7,"c":114,"v":0},{"r":7,"c":115,"v":0},{"r":7,"c":116,"v":0},{"r":7,"c":117,"v":0},{"r":7,"c":118,"v":0},{"r":7,"c":119,"v":0},
      {"r":7,"c":120,"v":0},{"r":7,"c":121,"v":0},{"r":7,"c":122,"v":0},{"r":7,"c":123,"v":0},{"r":7,"c":124,"v":0},{"r":7,"c":125,"v":0},{"r":7,"c":126,"v":0},{"r":7,"c":127,"v":0},{"r":7,"c":128,"v":0},{"r":7,"c":129,"v":0},
      {"r":7,"c":130,"v":0},{"r":7,"c":131,"v":0},{"r":7,"c":132,"v":0},{"r":7,"c":133,"v":0},{"r":7,"c":134,"v":0},{"r":7,"c":135,"v":0},{"r":7,"c":136,"v":0},{"r":7,"c":137,"v":0},{"r":7,"c":138,"v":0},{"r":7,"c":139,"v":0},
      {"r":7,"c":140,"v":0},{"r":7,"c":141,"v":0},{"r":7,"c":142,"v":0},{"r":7,"c":143,"v":0},{"r":7,"c":144,"v":0},{"r":7,"c":145,"v":0},{"r":7,"c":146,"v":0},{"r":7,"c":147,"v":0},{"r":7,"c":148,"v":0},{"r":7,"c":149,"v":0},
      {"r":7,"c":150,"v":0},{"r":7,"c":151,"v":0},{"r":7,"c":152,"v":0},{"r":7,"c":153,"v":0},{"r":7,"c":154,"v":1},{"r":7,"c":155,"v":1},{"r":7,"c":156,"v":0},{"r":7,"c":157,"v":0},{"r":7,"c":158,"v":0},{"r":7,"c":159,"v":0}
    ]
  },
  "encoding": {
    "x": {
      "field": "c",
      "type": "ordinal",
      "title": null,
      "scale": {"paddingInner": 0, "paddingOuter": 0}
    },
    "y": {
      "field": "r",
      "type": "ordinal",
      "title": null,
      "scale": {"paddingInner": 0, "paddingOuter": 0}
    }
  },
  "layer": [
    {
      "mark": {"type": "rect", "strokeWidth": 0.8},
      "encoding": {
        "x": {
          "field": "c",
          "type": "ordinal",
          "title": null,
          "axis": {"orient": "bottom", "values": [0, 20, 40, 60, 80, 100, 120, 140], "labelPadding": 22}
        },
        "y": {
          "field": "r",
          "type": "ordinal",
          "title": null,
          "axis": {"orient": "left", "labelPadding": 29}
        },
        "color": {
          "field": "v",
          "type": "quantitative",
          "scale": {"domain": [0, 1], "range": ["#008066", "#ffff66"], "interpolate": "rgb"},
          "legend": null
        },
        "stroke": {
          "field": "v",
          "type": "quantitative",
          "scale": {"domain": [0, 1], "range": ["#008066", "#ffff66"], "interpolate": "rgb"},
          "legend": null
        }
      }
    },
    {
      "mark": {"type": "rect", "opacity": 0},
      "encoding": {
        "x": {
          "field": "c",
          "type": "ordinal",
          "title": null,
          "axis": {"orient": "top", "values": [0, 20, 40, 60, 80, 100, 120, 140], "labels": false}
        },
        "y": {
          "field": "r",
          "type": "ordinal",
          "title": null,
          "axis": {"orient": "right", "labels": false}
        }
      }
    }
  ],
  "resolve": {"axis": {"x": "independent", "y": "independent"}},
  "config": {
    "view": {"stroke": "black", "strokeWidth": 5.4},
    "axis": {
      "domain": false,
      "grid": false,
      "ticks": true,
      "tickColor": "black",
      "tickWidth": 2,
      "tickSize": -16,
      "labelFont": "DejaVu Sans",
      "labelFontSize": 49,
      "labelColor": "black",
      "labelAngle": 0
    }
  }
}
